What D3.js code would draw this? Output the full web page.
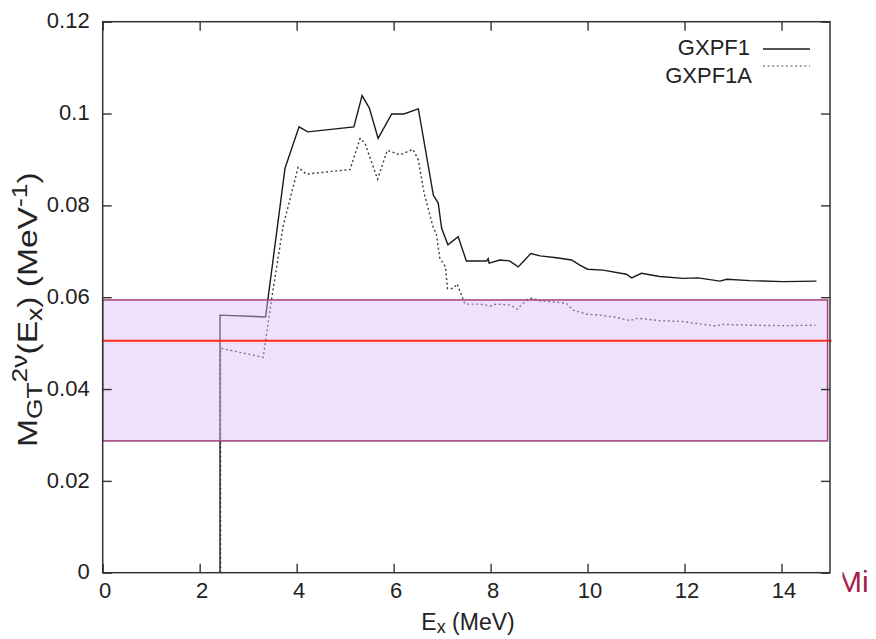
<!DOCTYPE html>
<html>
<head>
<meta charset="utf-8">
<script src="https://cdn.jsdelivr.net/npm/d3@7"></script>
<style>
  html, body { margin: 0; padding: 0; background: #fff; }
  svg { display: block; }
  text { font-family: "Liberation Sans", Arial, Helvetica, sans-serif; fill: #222; }
</style>
</head>
<body>
<svg id="chart" width="876" height="639"></svg>
<script>
// ---- data ----
const xTicks = [0, 2, 4, 6, 8, 10, 12, 14];
const yTicks = [0, 0.02, 0.04, 0.06, 0.08, 0.1, 0.12];
const yTickLabels = ["0", "0.02", "0.04", "0.06", "0.08", "0.1", "0.12"];
const seriesNames = ["GXPF1", "GXPF1A"];

const gxpf1 = [
  [2.42,0],[2.42,0.0561],[3.36,0.0557],[3.76,0.0881],[4.05,0.0971],[4.23,0.0960],
  [5.18,0.0971],[5.35,0.1039],[5.50,0.1012],[5.68,0.0946],[5.96,0.0999],[6.21,0.0999],
  [6.51,0.1010],[6.82,0.0822],[6.92,0.0805],[6.99,0.0750],[7.12,0.0714],[7.33,0.0732],
  [7.50,0.0679],[7.92,0.0679],[7.95,0.0684],[7.97,0.0674],[8.19,0.0681],[8.39,0.0679],
  [8.57,0.0666],[8.67,0.0677],[8.83,0.0695],[9.02,0.0690],[9.36,0.0686],[9.67,0.0681],
  [9.84,0.0670],[10.0,0.0661],[10.32,0.0659],[10.80,0.0650],[10.91,0.0642],[11.11,0.0652],
  [11.49,0.0645],[11.97,0.0641],[12.28,0.0642],[12.73,0.0635],[12.87,0.0639],[13.35,0.0636],
  [14.03,0.0634],[14.72,0.0635]
];

const gxpf1a = [
  [2.43,0],[2.43,0.0489],[3.31,0.0469],[3.48,0.0594],[3.72,0.0754],[4.03,0.0883],
  [4.20,0.0868],[5.10,0.0878],[5.31,0.0946],[5.41,0.0935],[5.67,0.0857],[5.87,0.0920],
  [6.13,0.0910],[6.40,0.0922],[6.51,0.0899],[6.63,0.0826],[6.82,0.0750],[6.88,0.0739],
  [6.95,0.0686],[7.07,0.0666],[7.11,0.0619],[7.23,0.0619],[7.31,0.0629],[7.47,0.0585],
  [7.78,0.0585],[7.99,0.0581],[8.12,0.0585],[8.40,0.0583],[8.55,0.0574],[8.74,0.0594],
  [8.85,0.0598],[9.02,0.0592],[9.36,0.0589],[9.56,0.0587],[9.70,0.0572],[9.98,0.0563],
  [10.25,0.0561],[10.60,0.0556],[10.87,0.0549],[11.04,0.0554],[11.49,0.0549],[11.97,0.0547],
  [12.66,0.0537],[12.76,0.0541],[13.35,0.0539],[14.03,0.0538],[14.70,0.0539]
];

// experimental band
const bandLow = 0.0287;
const bandHigh = 0.0594;
const bandCentral = 0.0505;

// ---- layout ----
const svg = d3.select("#chart");
const pLeft = 102.7, pRight = 830, pTop = 21.7, pBottom = 572.7;
const x = d3.scaleLinear().domain([0, 15]).range([pLeft, pRight]);
const y = d3.scaleLinear().domain([0, 0.12]).range([pBottom, pTop]);

const line = d3.line().x(d => x(d[0])).y(d => y(d[1]));

// curves
svg.append("path").datum(gxpf1)
  .attr("d", line).attr("fill", "none")
  .attr("stroke", "#1a1a1a").attr("stroke-width", 1.4);

svg.append("path").datum(gxpf1a)
  .attr("d", line).attr("fill", "none")
  .attr("stroke", "#3a3a3a").attr("stroke-width", 1.4)
  .attr("stroke-dasharray", "2,2.6");

// band over the curves (translucent)
svg.append("rect")
  .attr("x", x(0)).attr("width", x(14.95) - x(0))
  .attr("y", y(bandHigh)).attr("height", y(bandLow) - y(bandHigh))
  .attr("fill", "#dcbcf7").attr("fill-opacity", 0.45)
  .attr("stroke", "#a0407a").attr("stroke-width", 1.5);

svg.append("line")
  .attr("x1", x(0)).attr("x2", x(15.03))
  .attr("y1", y(bandCentral)).attr("y2", y(bandCentral))
  .attr("stroke", "#ff2a1a").attr("stroke-width", 2);

// axes
const tickLen = 9;
const fs = 22;
const gB = svg.append("g").attr("transform", `translate(0,${pBottom})`)
  .call(d3.axisBottom(x).tickValues(xTicks).tickSize(-tickLen).tickPadding(10).tickFormat(d3.format("d")));
const gT = svg.append("g").attr("transform", `translate(0,${pTop})`)
  .call(d3.axisTop(x).tickValues(xTicks).tickSize(-tickLen).tickFormat(""));
const gL = svg.append("g").attr("transform", `translate(${pLeft},0)`)
  .call(d3.axisLeft(y).tickValues(yTicks).tickSize(-tickLen).tickPadding(13)
    .tickFormat((d, i) => yTickLabels[i]));
const gR = svg.append("g").attr("transform", `translate(${pRight},0)`)
  .call(d3.axisRight(y).tickValues(yTicks).tickSize(-tickLen).tickFormat(""));

[gB, gT, gL, gR].forEach(g => {
  g.select(".domain").remove();
  g.selectAll(".tick line").attr("stroke", "#333").attr("stroke-width", 1.4);
  g.selectAll(".tick text").attr("font-size", fs).attr("fill", "#222")
    .attr("font-family", "'Liberation Sans', Arial, sans-serif");
});
gB.selectAll(".tick text").attr("dx", 2);
gL.selectAll(".tick text").attr("dy", "0.28em");

// frame
svg.append("rect")
  .attr("x", pLeft).attr("y", pTop)
  .attr("width", pRight - pLeft).attr("height", pBottom - pTop)
  .attr("fill", "none").attr("stroke", "#333").attr("stroke-width", 1.5);

// legend
const legX = [750, 752], legY = [55, 83], legLineY = [49, 66];
seriesNames.forEach((name, i) => {
  svg.append("text").attr("x", legX[i]).attr("y", legY[i])
    .attr("text-anchor", "end").attr("font-size", fs).text(name);
  const l = svg.append("line").attr("x1", 763).attr("x2", 810)
    .attr("y1", legLineY[i]).attr("y2", legLineY[i])
    .attr("stroke-width", 1.4);
  if (i === 0) l.attr("stroke", "#1a1a1a");
  else l.attr("stroke", "#888").attr("stroke-dasharray", "2,2.6");
});

// x-axis label
const xl = svg.append("text").attr("x", 468).attr("y", 630)
  .attr("text-anchor", "middle").attr("font-size", 23);
xl.append("tspan").text("E");
xl.append("tspan").attr("font-size", 18).attr("dy", 3).text("x");
xl.append("tspan").attr("dy", -3).text(" (MeV)");

// y-axis label
const yl = svg.append("text")
  .attr("transform", "translate(37,447) rotate(-90) scale(1.2,1)")
  .attr("text-anchor", "start").attr("font-size", 28);
yl.append("tspan").text("M");
yl.append("tspan").attr("font-size", 22).attr("dy", 5).text("GT");
yl.append("tspan").attr("font-size", 22).attr("dy", -15).text("2ν");
yl.append("tspan").attr("dy", 10).text("(E");
yl.append("tspan").attr("font-size", 22).attr("dy", 5).text("x");
yl.append("tspan").attr("dy", -5).text(") (MeV");
yl.append("tspan").attr("font-size", 22).attr("dy", -10).text("-1");
yl.append("tspan").attr("dy", 10).text(")");

// corner fragment "Mi"
svg.append("clipPath").attr("id", "miclip")
  .append("rect").attr("x", 842.5).attr("y", 550).attr("width", 40).attr("height", 60);
svg.append("text").attr("clip-path", "url(#miclip)")
  .attr("x", 837).attr("y", 592)
  .attr("font-family", "'Liberation Serif', 'Times New Roman', serif")
  .attr("font-size", 30).style("fill", "#a51c4a").text("Mi");
</script>
</body>
</html>
